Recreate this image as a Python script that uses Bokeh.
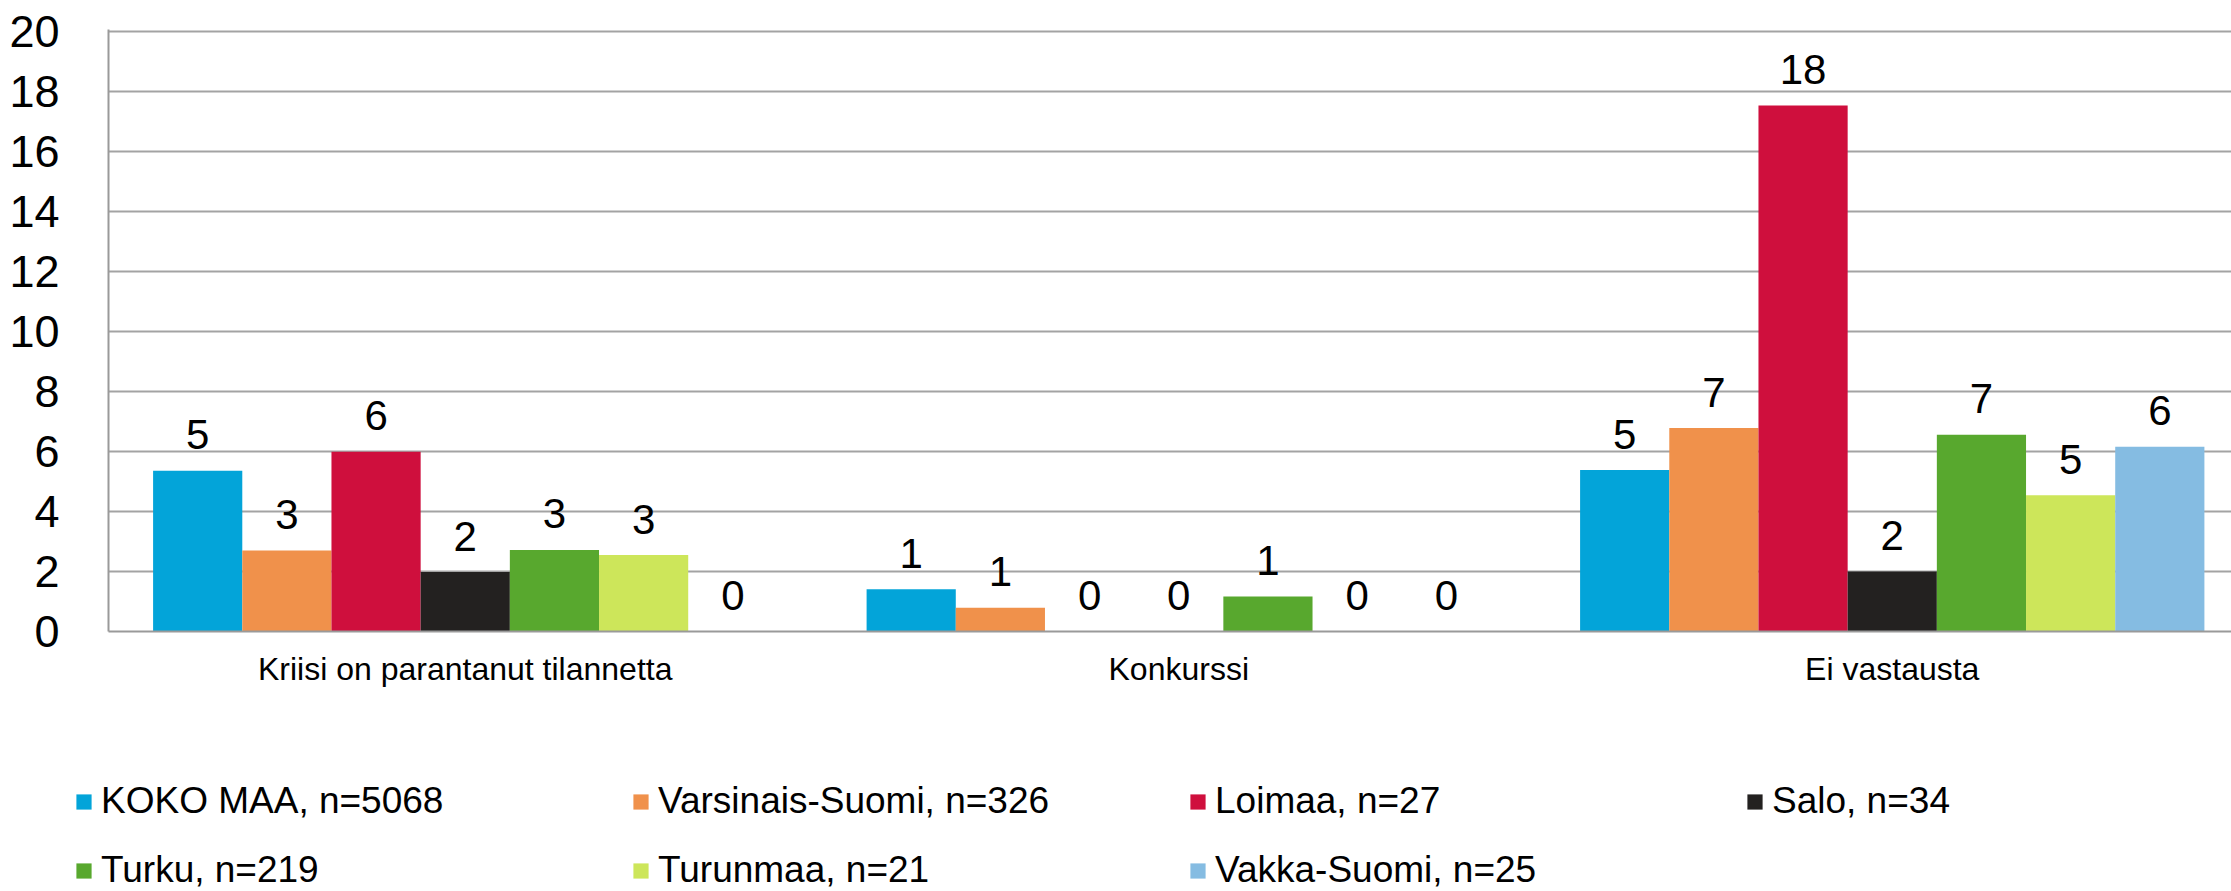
from bokeh.plotting import figure
from bokeh.layouts import column
from bokeh.models import ColumnDataSource, FixedTicker, Legend, LegendItem, Range1d
from bokeh.transform import dodge
from bokeh.embed import file_html
from bokeh.resources import INLINE
from bokeh.core.properties import value

# ---------------- data ----------------
categories = ["Kriisi on parantanut tilannetta", "Konkurssi", "Ei vastausta"]
series_names = ["KOKO MAA, n=5068", "Varsinais-Suomi, n=326", "Loimaa, n=27",
                "Salo, n=34", "Turku, n=219", "Turunmaa, n=21", "Vakka-Suomi, n=25"]
series_colors = ["#03A4D9", "#F0914B", "#CF0F3D", "#232120", "#58A82E", "#CDE65A", "#85BCE2"]

koko_maa        = [5.36, 1.41, 5.38]
varsinais_suomi = [2.70, 0.79, 6.78]
loimaa          = [5.99, 0.00, 17.53]
salo            = [1.98, 0.00, 2.00]
turku           = [2.72, 1.17, 6.56]
turunmaa        = [2.55, 0.00, 4.54]
vakka_suomi     = [0.00, 0.00, 6.16]
series_values = [koko_maa, varsinais_suomi, loimaa, salo, turku, turunmaa, vakka_suomi]

y_ticks = [0, 2, 4, 6, 8, 10, 12, 14, 16, 18, 20]

# ---------------- main chart ----------------
FONT = "Liberation Sans"
cat_pos = [i + 0.5 for i in range(len(categories))]
n_series = len(series_names)
bar_w = 1.0 / (n_series + 1)

p = figure(width=2231, height=700, output_backend="svg", toolbar_location=None,
           x_range=Range1d(0, 2123 / 713.5), y_range=Range1d(0, 20.0667),
           min_border_left=108, min_border_right=0, min_border_top=29, min_border_bottom=69)
p.outline_line_color = None
p.background_fill_color = "white"
p.border_fill_color = "white"

# legend strip below the chart (no axes)
p2 = figure(width=2231, height=191, output_backend="svg", toolbar_location=None,
            x_range=Range1d(0, 1), y_range=Range1d(100, 101),
            x_axis_location=None, y_axis_location=None,
            min_border_left=0, min_border_right=0, min_border_top=0, min_border_bottom=0)
p2.outline_line_color = None
p2.grid.visible = False

for fig in (p, p2):
    try:
        fig.frame_align = False
    except AttributeError:
        pass

items = []
for j, (name, vals, col) in enumerate(zip(series_names, series_values, series_colors)):
    src = ColumnDataSource(dict(x=cat_pos, top=vals, label=[f"{v:.0f}" for v in vals]))
    off = (j - (n_series - 1) / 2) * bar_w
    p.vbar(x=dodge("x", off), top="top", width=bar_w, source=src,
           fill_color=col, line_color=None)
    p.text(x=dodge("x", off), y="top", text="label", source=src,
           text_align="center", text_baseline="alphabetic", y_offset=-36,
           text_font=value(FONT), text_font_size="42px", text_color="black")
    # same series in the legend strip (out of its view), used for the legend swatch
    r2 = p2.vbar(x=dodge("x", off), top="top", width=bar_w, source=src,
                 fill_color=col, line_color=None)
    items.append(LegendItem(label=name, renderers=[r2]))

# axes
p.xaxis.ticker = FixedTicker(ticks=cat_pos)
p.xaxis.major_label_overrides = {c: lab for c, lab in zip(cat_pos, categories)}
p.xaxis.major_label_text_font = FONT
p.xaxis.major_label_text_font_size = "32px"
p.xaxis.major_label_text_color = "black"
p.xaxis.major_label_standoff = 13
p.xaxis.major_tick_line_color = None
p.xaxis.minor_tick_line_color = None
p.xaxis.axis_line_color = "#9a9a9a"
p.xaxis.axis_line_width = 2

p.yaxis.ticker = FixedTicker(ticks=y_ticks)
p.yaxis.major_label_text_font = FONT
p.yaxis.major_label_text_font_size = "45px"
p.yaxis.major_label_text_color = "black"
p.yaxis.major_label_standoff = 43
p.yaxis.major_tick_line_color = None
p.yaxis.minor_tick_line_color = None
p.yaxis.axis_line_color = "#9a9a9a"
p.yaxis.axis_line_width = 2

p.xgrid.grid_line_color = None
p.ygrid.grid_line_color = "#a3a3a3"
p.ygrid.grid_line_width = 2

legend = Legend(items=items, location=(74, 0), orientation="horizontal", ncols=4,
                glyph_width=19, glyph_height=19, label_standoff=8,
                label_width=503, label_height=40, spacing=27,
                padding=0, margin=0, border_line_color=None, background_fill_alpha=0,
                label_text_font=FONT, label_text_font_size="37px", label_text_color="black")
p2.add_layout(legend, "center")

layout = column(p, p2, spacing=0)
open("out.html", "w").write(file_html(layout, INLINE))
